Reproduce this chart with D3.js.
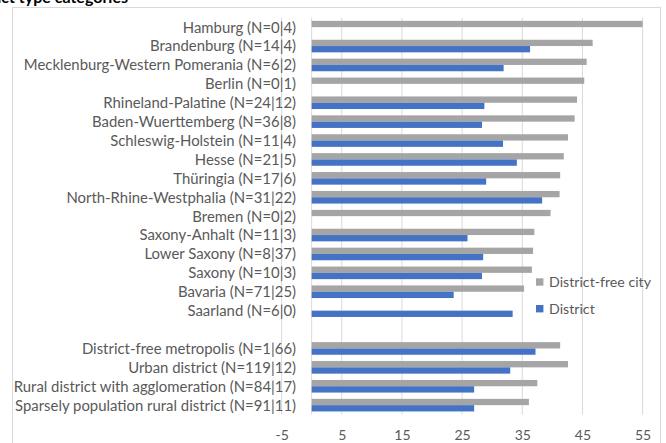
<!DOCTYPE html>
<html><head><meta charset="utf-8">
<script src="https://cdn.jsdelivr.net/npm/d3@7"></script>
<style>body{margin:0;background:#fff}svg{display:block}text{font-family:Lato,"Open Sans",sans-serif}</style>
</head><body>
<svg id="c" width="666" height="443"></svg>
<script>
const categories = [
  "Hamburg (N=0|4)",
  "Brandenburg (N=14|4)",
  "Mecklenburg-Western Pomerania (N=6|2)",
  "Berlin (N=0|1)",
  "Rhineland-Palatine (N=24|12)",
  "Baden-Wuerttemberg (N=36|8)",
  "Schleswig-Holstein (N=11|4)",
  "Hesse (N=21|5)",
  "Thüringia (N=17|6)",
  "North-Rhine-Westphalia (N=31|22)",
  "Bremen (N=0|2)",
  "Saxony-Anhalt (N=11|3)",
  "Lower Saxony (N=8|37)",
  "Saxony (N=10|3)",
  "Bavaria (N=71|25)",
  "Saarland (N=6|0)",
  "",
  "District-free metropolis (N=1|66)",
  "Urban district (N=119|12)",
  "Rural district with agglomeration (N=84|17)",
  "Sparsely population rural district (N=91|11)"
];
const districtFreeCity = [55.0,46.7,45.7,45.3,44.1,43.7,42.6,41.9,41.3,41.2,39.7,37.0,36.8,36.6,35.3,null,null,41.3,42.6,37.5,36.1];
const district =         [null,36.3,31.9,null,28.7,28.3,31.8,34.1,29.0,38.3,null,25.9,28.5,28.3,23.6,33.4,null,37.2,33.0,27.0,27.0];
const tickValues = [-5,5,15,25,35,45,55];
const seriesNames = ["District-free city","District"];
const seriesColors = ["#A5A5A5","#4472C4"];
const titleText = "by district type categories";

const svg = d3.select("#c");
const keys = categories.map((c,i)=>i);
const plot = {left:281.6, right:642.6, top:17.7, bottom:414.6};

const x = d3.scaleLinear().domain([-5,55]).range([plot.left, plot.right]);
const y = d3.scaleBand().domain(keys).range([plot.top, plot.bottom]).paddingInner(0).paddingOuter(0);
const inner = d3.scaleBand().domain([0,1]).range([0, y.bandwidth()]).paddingOuter(0.5).paddingInner(0);

// title (mostly cut off, as in the reference)
svg.append("text").attr("x",128).attr("y",2.5).attr("text-anchor","end")
  .attr("font-weight","bold").attr("font-size",16).attr("fill","#000").text(titleText);

// chart border
svg.append("rect").attr("x",12.5).attr("y",7.5).attr("width",648).attr("height",450)
  .attr("fill","none").attr("stroke","#d9d9d9");

// gridlines
svg.append("g").selectAll("line").data(tickValues).join("line")
  .attr("x1",d=>x(d)).attr("x2",d=>x(d)).attr("y1",plot.top).attr("y2",plot.bottom)
  .attr("stroke","#d9d9d9").attr("stroke-width",1);
// zero axis line
svg.append("line").attr("x1",x(0)).attr("x2",x(0)).attr("y1",plot.top).attr("y2",plot.bottom)
  .attr("stroke","#d9d9d9");

// bars
const series = [districtFreeCity, district];
series.forEach((vals,s)=>{
  svg.append("g").selectAll("rect").data(vals.map((v,i)=>({v,i})).filter(d=>d.v!=null)).join("rect")
    .attr("x",x(0)).attr("y",d=>y(d.i)+inner(s))
    .attr("width",d=>x(d.v)-x(0)).attr("height",inner.bandwidth())
    .attr("fill",seriesColors[s]);
});

// category labels
svg.append("g").selectAll("text").data(categories.map((c,i)=>({c,i}))).join("text")
  .attr("x",296).attr("y",d=>y(d.i)+y.bandwidth()/2).attr("dy","0.36em")
  .attr("text-anchor","end").attr("font-size",14.9).attr("fill","#595959").text(d=>d.c);

// x axis tick labels
const xAxis = d3.axisBottom(x).tickValues(tickValues).tickSize(0).tickPadding(0).tickFormat(d=>String(d));
const ax = svg.append("g").attr("transform",`translate(0,${plot.bottom})`).call(xAxis);
ax.select(".domain").remove();
ax.selectAll("text").attr("y",20).attr("dy","0.36em").attr("font-size",14).attr("fill","#595959")
  .style("font-family","Lato,'Open Sans',sans-serif");

// legend
const lg = svg.append("g");
seriesNames.forEach((n,i)=>{
  const cy = 282 + i*26.7;
  lg.append("rect").attr("x",536).attr("y",cy-3.7).attr("width",7.4).attr("height",7.4).attr("fill",seriesColors[i]);
  lg.append("text").attr("x",549).attr("y",cy).attr("dy","0.36em").attr("font-size",14.2).attr("fill","#595959").text(n);
});
</script>
</body></html>
